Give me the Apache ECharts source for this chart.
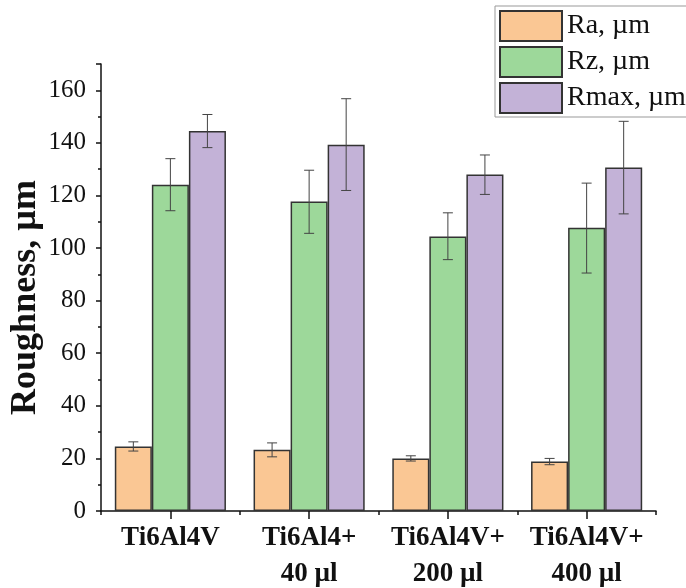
<!DOCTYPE html>
<html>
<head>
<meta charset="utf-8">
<script src="https://cdn.jsdelivr.net/npm/echarts@6/dist/echarts.min.js"></script>
<style>html,body{margin:0;padding:0;background:#fff}#c{width:686px;height:588px}</style>
</head>
<body>
<div id="c"></div>
<script>
const categories = ['Ti6Al4V', 'Ti6Al4+\n40 µl', 'Ti6Al4V+\n200 µl', 'Ti6Al4V+\n400 µl'];
const seriesNames = ['Ra, µm', 'Rz, µm', 'Rmax, µm'];
const raValues = [24.5, 23.3, 20.0, 18.8];
const raErrLow = [22.8, 20.6, 19.0, 17.6];
const raErrHigh = [26.3, 25.9, 21.0, 20.0];
const rzValues = [124.1, 117.7, 104.4, 107.7];
const rzErrLow = [114.2, 105.6, 95.6, 90.5];
const rzErrHigh = [134.0, 129.6, 113.4, 124.7];
const rmaxValues = [144.5, 139.3, 128.0, 130.6];
const rmaxErrLow = [138.2, 121.9, 120.4, 113.0];
const rmaxErrHigh = [150.8, 156.8, 135.4, 148.2];
const yTicks = [0, 20, 40, 60, 80, 100, 120, 140, 160];

const colors = ['#FAC794', '#9DD89A', '#C3B2D7'];
const barRatio = 0.267;
const FONT = '"Liberation Serif", "Times New Roman", serif';

const values = [raValues, rzValues, rmaxValues];
const lows = [raErrLow, rzErrLow, rmaxErrLow];
const highs = [raErrHigh, rzErrHigh, rmaxErrHigh];

const series = [];
seriesNames.forEach((name, s) => {
  series.push({
    name: name, type: 'bar', data: values[s], barWidth: (barRatio * 100) + '%', barGap: '0%',
    itemStyle: { color: colors[s], borderColor: '#333', borderWidth: 1.5 },
    z: 2
  });
});
seriesNames.forEach((name, s) => {
  series.push({
    type: 'custom', name: name + ' err', z: 5, silent: true,
    data: categories.map((c, i) => [i, lows[s][i], highs[s][i]]),
    renderItem: function (params, api) {
      const band = api.size([1, 0])[0];
      const off = (s - 1) * band * barRatio;
      const lo = api.coord([api.value(0), api.value(1)]);
      const hi = api.coord([api.value(0), api.value(2)]);
      const x = lo[0] + off;
      const cw = 5;
      const st = { stroke: '#444', lineWidth: 1 };
      return { type: 'group', children: [
        { type: 'line', shape: { x1: x, y1: lo[1], x2: x, y2: hi[1] }, style: st },
        { type: 'line', shape: { x1: x - cw, y1: lo[1], x2: x + cw, y2: lo[1] }, style: st },
        { type: 'line', shape: { x1: x - cw, y1: hi[1], x2: x + cw, y2: hi[1] }, style: st }
      ]};
    }
  });
});

const chart = echarts.init(document.getElementById('c'), null, { renderer: 'canvas' });
chart.setOption({
  animation: false,
  backgroundColor: '#fff',
  grid: { left: 101, right: 30, top: 64, bottom: 77, containLabel: false, outerBoundsMode: 'none' },
  legend: {
    data: seriesNames, orient: 'vertical', left: 495, top: 6,
    padding: [4, 30, 3, 4], itemGap: 4, itemWidth: 62, itemHeight: 30,
    borderColor: '#999', borderWidth: 1, backgroundColor: '#fff',
    icon: 'rect',
    textStyle: { fontFamily: FONT, fontSize: 28, color: '#111' }
  },
  xAxis: [{
    type: 'category', data: categories,
    axisLine: { show: true, lineStyle: { color: '#111', width: 1.5 } },
    axisTick: { show: true, alignWithLabel: true, length: 8, lineStyle: { color: '#111', width: 1.5 } },
    axisLabel: { interval: 0, hideOverlap: false, fontFamily: FONT, fontSize: 27, fontWeight: 'bold', color: '#111', lineHeight: 36, margin: 9 }
  }, {
    type: 'category', data: categories, position: 'bottom', offset: 0,
    axisLine: { show: false },
    axisTick: { show: true, interval: 0, alignWithLabel: false, length: 4, lineStyle: { color: '#111', width: 1.5 } },
    axisLabel: { show: false }
  }],
  yAxis: {
    type: 'value', min: 0, max: 170, interval: 20,
    name: 'Roughness, µm', nameLocation: 'middle', nameGap: 57, nameMoveOverlap: false,
    nameTextStyle: { fontFamily: FONT, fontSize: 36, fontWeight: 'bold', color: '#111', padding: [0, 20, 0, 0] },
    axisLine: { show: true, lineStyle: { color: '#111', width: 1.5 } },
    axisTick: { show: true, length: 5, lineStyle: { color: '#111', width: 1.5 } },
    minorTick: { show: true, splitNumber: 2, length: 3, lineStyle: { color: '#111', width: 1.5 } },
    splitLine: { show: false },
    axisLabel: {
      fontFamily: FONT, fontSize: 25, color: '#111', margin: 15,
      formatter: v => (yTicks.indexOf(v) >= 0 ? String(v) : '')
    }
  },
  series: series
});
</script>
</body>
</html>
